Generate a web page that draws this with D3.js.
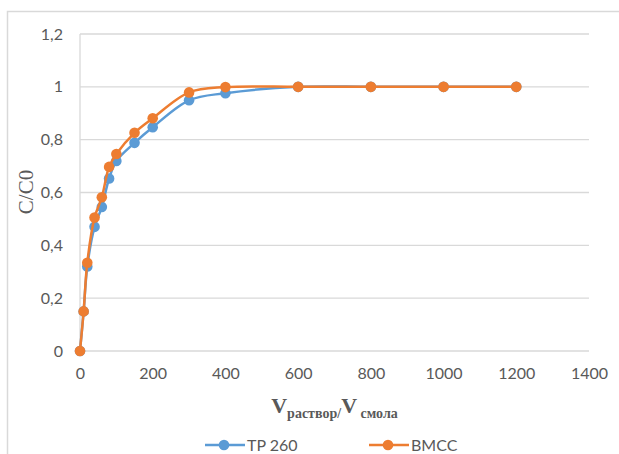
<!DOCTYPE html>
<html>
<head>
<meta charset="utf-8">
<script src="https://cdn.jsdelivr.net/npm/d3@7"></script>
<style>
  html, body { margin: 0; padding: 0; background: #fff; }
  svg { display: block; }
</style>
</head>
<body>
<svg id="chart" width="619" height="454"></svg>
<script>
// ---- data ----
const seriesNames = ["TP 260", "BMCC"];
const tp260X = [0, 10, 20, 40, 60, 80, 100, 150, 200, 300, 400, 600, 800, 1000, 1200];
const tp260Y = [0, 0.15, 0.32, 0.47, 0.545, 0.653, 0.719, 0.788, 0.847, 0.949, 0.976, 1.0, 1.0, 1.0, 1.0];
const bmccX  = [0, 10, 20, 40, 60, 80, 100, 150, 200, 300, 400, 600, 800, 1000, 1200];
const bmccY  = [0, 0.15, 0.334, 0.505, 0.582, 0.697, 0.746, 0.826, 0.881, 0.979, 0.999, 1.0, 1.0, 1.0, 1.0];
const xTicks = [0, 200, 400, 600, 800, 1000, 1200, 1400];
const yTicks = [0, 0.2, 0.4, 0.6, 0.8, 1, 1.2];
const colors = ["#5B9BD5", "#ED7D31"];

const svg = d3.select("#chart");
const W = 619, H = 454;
const plot = { left: 80, right: 589, top: 34, bottom: 351 };

const x = d3.scaleLinear().domain([0, 1400]).range([plot.left, plot.right]);
const y = d3.scaleLinear().domain([0, 1.2]).range([plot.bottom, plot.top]);

// chart frame
svg.append("rect")
  .attr("x", 7.5).attr("y", 11.5)
  .attr("width", 700).attr("height", 600)
  .attr("fill", "#fff").attr("stroke", "#d9d9d9").attr("stroke-width", 1.5);

// gridlines
svg.append("g").selectAll("line").data(yTicks).join("line")
  .attr("x1", plot.left).attr("x2", plot.right)
  .attr("y1", d => y(d)).attr("y2", d => y(d))
  .attr("stroke", "#d9d9d9").attr("stroke-width", 1.3);

// vertical axis line
svg.append("line")
  .attr("x1", plot.left).attr("x2", plot.left)
  .attr("y1", plot.top).attr("y2", plot.bottom)
  .attr("stroke", "#d9d9d9").attr("stroke-width", 1.3);

const fmt = d => String(+d.toFixed(1)).replace(".", ",");

// y axis labels
const yAxis = d3.axisLeft(y).tickValues(yTicks).tickFormat(fmt).tickSize(0).tickPadding(17);
const gy = svg.append("g").attr("transform", `translate(${plot.left},0)`).call(yAxis);
gy.select(".domain").remove();
gy.selectAll("text").attr("fill", "#595959").style("font-family", "Lato, 'Open Sans', sans-serif").style("font-size", "16px");

// x axis labels
const xAxis = d3.axisBottom(x).tickValues(xTicks).tickFormat(d => String(d)).tickSize(0).tickPadding(17);
const gx = svg.append("g").attr("transform", `translate(0,${plot.bottom})`).call(xAxis);
gx.select(".domain").remove();
gx.selectAll("text").attr("fill", "#595959").style("font-family", "Lato, 'Open Sans', sans-serif").style("font-size", "16px");

// series
const series = [
  { name: seriesNames[0], xs: tp260X, ys: tp260Y, color: colors[0] },
  { name: seriesNames[1], xs: bmccX, ys: bmccY, color: colors[1] }
];
const line = d3.line().x(d => x(d[0])).y(d => y(d[1])).curve(d3.curveCatmullRom.alpha(0.5));

series.forEach(s => {
  const pts = s.xs.map((v, i) => [v, s.ys[i]]);
  const g = svg.append("g");
  g.append("path").attr("d", line(pts))
    .attr("fill", "none").attr("stroke", s.color).attr("stroke-width", 2.5);
  g.selectAll("circle").data(pts).join("circle")
    .attr("cx", d => x(d[0])).attr("cy", d => y(d[1])).attr("r", 5.3)
    .attr("fill", s.color);
});

// y title
svg.append("text")
  .attr("transform", "translate(33,192) rotate(-90)")
  .attr("text-anchor", "middle")
  .attr("fill", "#595959")
  .style("font-family", "'Liberation Serif', 'Times New Roman', serif")
  .style("font-size", "21px")
  .text("C/C0");

// x title
const xt = svg.append("text")
  .attr("x", (plot.left + plot.right) / 2).attr("y", 413)
  .attr("text-anchor", "middle")
  .attr("fill", "#595959")
  .style("font-family", "'Liberation Serif', 'Times New Roman', serif")
  .style("font-weight", "bold");
xt.append("tspan").style("font-size", "22px").text("V");
xt.append("tspan").style("font-size", "14px").attr("dy", 5).text("раствор/");
xt.append("tspan").style("font-size", "22px").attr("dy", -5).text("V");
xt.append("tspan").style("font-size", "14px").attr("dy", 5).text("\u00a0смола");

// legend
const legendItems = [
  { name: seriesNames[0], color: colors[0], x0: 205 },
  { name: seriesNames[1], color: colors[1], x0: 369 }
];
const ly = 445;
legendItems.forEach(it => {
  svg.append("line").attr("x1", it.x0).attr("x2", it.x0 + 40)
    .attr("y1", ly).attr("y2", ly).attr("stroke", it.color).attr("stroke-width", 2.5);
  svg.append("circle").attr("cx", it.x0 + 19).attr("cy", ly).attr("r", 5.3).attr("fill", it.color);
  svg.append("text").attr("x", it.x0 + 42).attr("y", ly).attr("dy", "0.36em")
    .attr("fill", "#595959")
    .style("font-family", "Lato, 'Open Sans', sans-serif").style("font-size", "16px")
    .text(it.name);
});
</script>
</body>
</html>
